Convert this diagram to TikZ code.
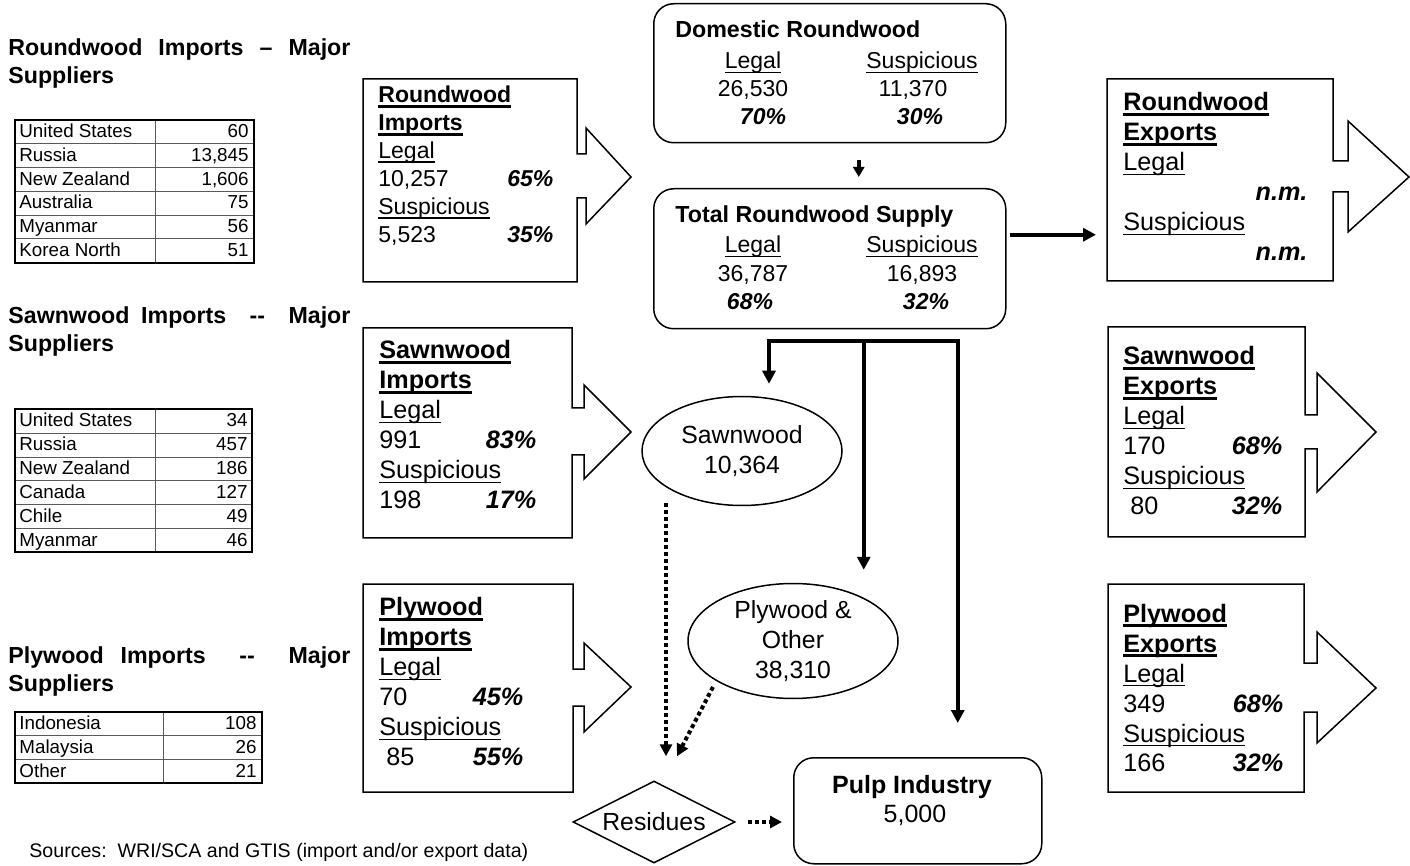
\documentclass[tikz,border=0pt]{standalone}
\usepackage{fontspec}
\setmainfont{Liberation Sans}
\usetikzlibrary{positioning,arrows.meta,calc,shapes.geometric}
\newcommand\ulrm[1]{\leavevmode\setbox0\hbox{#1}\rlap{\vrule width\wd0 height -1.3pt depth 2.1pt}\box0}
\newcommand\ulbf[1]{\leavevmode\setbox0\hbox{\bfseries #1}\rlap{\vrule width\wd0 height -1.2pt depth 2.5pt}\box0}
\newcommand\pct[1]{\textbf{\textit{#1\%}}}

\begin{document}
\lineskiplimit=-20pt
\begin{tikzpicture}[x=0.5pt, y=-0.5pt,
  outline/.style={draw, line width=0.75pt, line join=miter},
  rbox/.style={draw, line width=0.75pt, rounded corners=10pt, inner sep=0pt, anchor=north west},
  boxtxt/.style={anchor=base west, align=left, inner sep=0pt},
  sm/.style={inner sep=0pt, font=\fontsize{11.5}{13.95}\selectfont},
  smbf/.style={inner sep=0pt, font=\fontsize{11.6}{14}\selectfont\bfseries},
  bg/.style={inner sep=0pt, font=\fontsize{12.6}{15}\selectfont},
  oval/.style={ellipse, draw, line width=0.75pt, inner sep=0pt, align=center,
               font=\fontsize{12.4}{15}\selectfont},
  head/.style={anchor=base west, align=left, inner sep=0pt,
               font=\fontsize{11.6}{14}\selectfont\bfseries},
  tab/.style={inner sep=0pt, font=\fontsize{9.4}{11}\selectfont},
  cell/.style={draw=black!65, line width=0.5pt},
  frame/.style={draw, line width=1pt},
  flow/.style={line width=2pt, line join=miter, -{Triangle[length=6.5pt, width=6.5pt]}},
  dotflow/.style={line width=2pt, dash pattern=on 2pt off 1.5pt,
                  -{Triangle[length=6pt, width=6pt]}}]
\useasboundingbox (0,0) rectangle (1410,866);

% left: supplier tables
\node[head] (h1) at (8,84) {\makebox[171pt][s]{Roundwood Imports -- Major}\\Suppliers};
\node[head] (h2) at (8,352) {\makebox[171pt][s]{Sawnwood Imports \ -{}- \ Major}\\Suppliers};
\node[head] (h3) at (8,691) {\makebox[171pt][s]{Plywood Imports \ -{}- \ Major}\\Suppliers};

\foreach \c/\v [count=\i from 0] in {United States/60, Russia/{13,845},
    New Zealand/{1,606}, Australia/75, Myanmar/56, Korea North/51} {
  \draw[cell] (15,{120+\i*23.8}) rectangle (155,{143.8+\i*23.8})
    rectangle (254,{120+\i*23.8});
  \node[tab, anchor=base west] (ra\i) at (19,{137.5+\i*23.8}) {\c};
  \node[tab, anchor=base east] (rv\i) at (249,{137.5+\i*23.8}) {\v};
}
\draw[frame] (15,120) rectangle (254,262.8);

\foreach \c/\v [count=\i from 0] in {United States/34, Russia/457,
    New Zealand/186, Canada/127, Chile/49, Myanmar/46} {
  \draw[cell] (15,{409.5+\i*23.8}) rectangle (155,{433.3+\i*23.8})
    rectangle (252,{409.5+\i*23.8});
  \node[tab, anchor=base west] (sa\i) at (19,{427+\i*23.8}) {\c};
  \node[tab, anchor=base east] (sv\i) at (248,{427+\i*23.8}) {\v};
}
\draw[frame] (15,409.5) rectangle (252,552.3);

\foreach \c/\v [count=\i from 0] in {Indonesia/108, Malaysia/26, Other/21} {
  \draw[cell] (15,{712+\i*23.8}) rectangle (163,{735.8+\i*23.8})
    rectangle (262,{712+\i*23.8});
  \node[tab, anchor=base west] (pa\i) at (19,{729.5+\i*23.8}) {\c};
  \node[tab, anchor=base east] (pv\i) at (257,{729.5+\i*23.8}) {\v};
}
\draw[frame] (15,712) rectangle (262,783.4);

\node[anchor=base west, inner sep=0pt, font=\fontsize{9.8}{11}\selectfont] (src)
  at (29,857) {Sources:\ \ WRI/SCA and GTIS (import and/or export data)};

% import and export boxes with their arrows
\foreach \n/\l/\t/\r/\b/\st/\sb/\se/\ht/\hb/\tx/\ty in {
    rwimp/363/79/577/282/154/198/586/128/224/631/177,
    swimp/363/328/572/538/408/455/584/385/479/631/432,
    plimp/363/584/573/792/669/706/584/643/732/631/687,
    rwexp/1107/79/1333/281/161/192/1348/121/232/1409/177,
    swexp/1108/327/1305/537/415/449/1317/373/492/1376/432,
    plexp/1108/584/1304/792/663/712/1317/632/743/1376/688} {
  \draw[outline] (\l,\t) -- (\r,\t) -- (\r,\st) -- (\se,\st) -- (\se,\ht)
    -- (\tx,\ty) -- (\se,\hb) -- (\se,\sb) -- (\r,\sb) -- (\r,\b) -- (\l,\b) -- cycle;
  \coordinate (\n-w) at (\l,{(\t+\b)/2});
}

\node[boxtxt, sm, text width=87.5pt] (rwimp) at (378,103)
  {\ulbf{Roundwood}\\ \ulbf{Imports}\\ \ulrm{Legal}\\ 10,257\hfill\pct{65}\\
   \ulrm{Suspicious}\\ 5,523\hfill\pct{35}\hspace*{3pt}};
\node[boxtxt, bg, text width=78.5pt] (swimp) at (379,359)
  {\ulbf{Sawnwood}\\ \ulbf{Imports}\\ \ulrm{Legal}\\ 991\hfill\pct{83}\\
   \ulrm{Suspicious}\\ 198\hfill\pct{17}};
\node[boxtxt, bg, text width=72pt] (plimp) at (379,616)
  {\ulbf{Plywood}\\ \ulbf{Imports}\\ \ulrm{Legal}\\ 70\hfill\pct{45}\\
   \ulrm{Suspicious}\\ \hspace*{3.5pt}85\hfill\pct{55}};
\node[boxtxt, bg, text width=92pt] (rwexp) at (1123,111)
  {\ulbf{Roundwood}\\ \ulbf{Exports}\\ \ulrm{Legal}\\ \hspace*{0pt}\hfill\textbf{\textit{n.m.}}\\
   \ulrm{Suspicious}\\ \hspace*{0pt}\hfill\textbf{\textit{n.m.}}};
\node[boxtxt, bg, text width=79.5pt] (swexp) at (1123,365)
  {\ulbf{Sawnwood}\\ \ulbf{Exports}\\ \ulrm{Legal}\\ 170\hfill\pct{68}\\
   \ulrm{Suspicious}\\ \hspace*{3.5pt}80\hfill\pct{32}};
\node[boxtxt, bg, text width=80pt] (plexp) at (1123,622)
  {\ulbf{Plywood}\\ \ulbf{Exports}\\ \ulrm{Legal}\\ 349\hfill\pct{68}\\
   \ulrm{Suspicious}\\ 166\hfill\pct{32}};

% roundwood supply
\node[rbox, minimum width=176pt, minimum height=69.5pt] (dom) at (653,3) {};
\node[smbf, anchor=base west] (domt) at (675,38) {Domestic Roundwood};
\foreach \n/\x/\y/\t in {dl/753/69/\ulrm{Legal}, ds/922/69/\ulrm{Suspicious},
    dlv/753/97/{26,530}, dsv/913/97/{11,370}, dlp/763/125/\pct{70}, dsp/920/125/\pct{30}}
  \node[sm, anchor=base] (\n) at (\x,\y) {\t};

\node[rbox, minimum width=176pt, minimum height=70pt] (tot) at (653,188) {};
\node[smbf, anchor=base west] (tott) at (675,223) {Total Roundwood Supply};
\foreach \n/\x/\y/\t in {tl/753/253/\ulrm{Legal}, ts/922/253/\ulrm{Suspicious},
    tlv/753/282/{36,787}, tsv/922/282/{16,893}, tlp/750/310/\pct{68}, tsp/926/310/\pct{32}}
  \node[sm, anchor=base] (\n) at (\x,\y) {\t};

\draw[line width=2pt, -{Triangle[length=5pt, width=5.5pt]}, shorten <=8.5pt, shorten >=5.5pt]
  ($(dom.south)+(29,0)$) -- ($(tot.north)+(29,0)$);
\draw[flow] ($(tot.east)+(3,-24)$) -- ($(tot.east -| rwexp-w)+(-11,-24)$);

% products
\node[oval, minimum width=100pt, minimum height=54.5pt] (sawn) at (742,451) {Sawnwood\\10,364};
\node[oval, minimum width=105pt, minimum height=57.5pt] (plyw) at (793,641) {Plywood \&\\Other\\38,310};
\node[diamond, draw, line width=0.75pt, aspect=2, inner sep=0pt, minimum width=81pt,
      minimum height=41pt, font=\fontsize{12.4}{15}\selectfont] (res) at (654,822) {Residues};
\node[rbox, minimum width=124pt, minimum height=53pt] (pulp) at (793,757) {};
\node[anchor=base, inner sep=0pt, font=\fontsize{12.5}{15}\selectfont\bfseries] (pulpt)
  at (912,793) {Pulp Industry};
\node[anchor=base, inner sep=0pt, font=\fontsize{12.5}{15}\selectfont] (pulpv)
  at (915,822) {5,000};

\coordinate (br) at ($(tot.south)+(34,12)$);
\draw[flow, shorten >=6pt] (br) -| ($(sawn.north)+(27,0)$);
\draw[flow, shorten >=6.5pt] (br) -- (br |- plyw.north);
\draw[flow, shorten >=17pt] (br) -| ($(pulp.north)+(40,0)$);

\draw[dotflow] ($(sawn.south)+(-76,-3)$) -- ($(res.north)+(12,-24)$);
\draw[dotflow] ($(plyw.center)+(-80,46)$) -- ($(res.north)+(23,-24)$);
\draw[dotflow, shorten <=6pt, shorten >=5.5pt] (res.east) -- (res.east -| pulp.west);
\end{tikzpicture}
\end{document}
